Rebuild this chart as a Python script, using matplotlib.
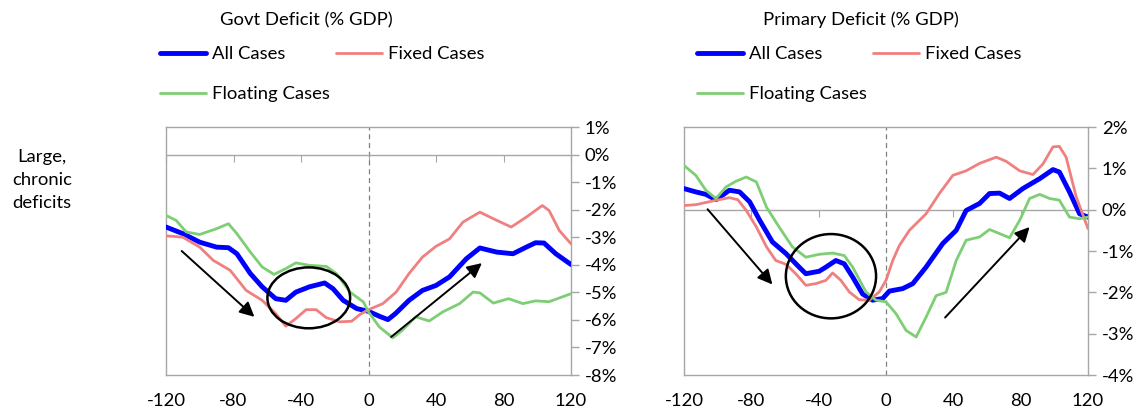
import matplotlib
matplotlib.use("Agg")
import matplotlib.pyplot as plt
from matplotlib.patches import Ellipse

plt.rcParams['font.family'] = ['Lato', 'DejaVu Sans']
plt.rcParams['axes.unicode_minus'] = False

# ---- Govt Deficit (% GDP) ----
govt_all_x = [-120, -110, -100, -90, -83, -78, -70, -63, -55, -49, -43, -35, -26, -21, -15, -7, 0,
              6.5, 11.5, 16, 24, 32, 40, 48, 58, 66, 76, 85.6, 93.5, 99, 104, 111, 120]
govt_all_y = [-2.63, -2.87, -3.18, -3.36, -3.38, -3.6, -4.32, -4.8, -5.23, -5.29, -4.99, -4.8, -4.66,
              -4.87, -5.29, -5.59, -5.69, -5.87, -5.99, -5.77, -5.29, -4.93, -4.75, -4.44, -3.78,
              -3.39, -3.54, -3.6, -3.36, -3.2, -3.21, -3.6, -3.99]

govt_fixed_x = [-120, -110, -100, -92, -82, -72.5, -63, -55, -49, -43, -37, -31, -25, -17, -10, -5, 0,
                8.5, 16.4, 24, 32, 40, 48, 56, 66, 74, 84.6, 93.5, 103, 107, 113, 120]
govt_fixed_y = [-2.95, -3.0, -3.36, -3.84, -4.2, -4.93, -5.29, -5.77, -6.23, -5.95, -5.63, -5.63,
                -5.92, -6.07, -6.05, -5.8, -5.63, -5.41, -4.99, -4.32, -3.72, -3.33, -3.06, -2.45,
                -2.09, -2.33, -2.63, -2.27, -1.85, -2.03, -2.75, -3.24]

govt_float_x = [-120, -114, -108, -100, -90, -83, -78, -70, -63, -56, -49, -43, -35, -25, -19, -11, -3,
                0, 6.5, 14.4, 20, 28, 36, 44, 54, 62, 66, 74, 83, 91.5, 99, 107, 120]
govt_float_y = [-2.21, -2.39, -2.81, -2.9, -2.69, -2.51, -2.87, -3.54, -4.08, -4.35, -4.14, -3.93,
                -4.02, -4.06, -4.32, -4.99, -5.35, -5.71, -6.26, -6.65, -6.38, -5.89, -6.04, -5.71,
                -5.41, -4.99, -5.02, -5.39, -5.23, -5.41, -5.31, -5.34, -5.05]

# ---- Primary Deficit (% GDP) ----
prim_all_x = [-120, -113, -107, -101, -93, -87, -81, -75, -67.5, -59.5, -51.6, -47.6, -39.7, -35.7,
              -29.8, -24.8, -19.8, -13.9, -7.9, -2, 2, 9.9, 15.9, 23.8, 33.7, 41.7, 47.6, 55.6, 61.5,
              67.5, 73.4, 81.3, 91.3, 99.2, 103, 109, 115, 120]
prim_all_y = [0.51, 0.43, 0.37, 0.24, 0.47, 0.43, 0.19, -0.26, -0.78, -1.06, -1.39, -1.55, -1.49,
              -1.39, -1.23, -1.31, -1.63, -2.04, -2.19, -2.15, -1.97, -1.91, -1.79, -1.39, -0.82,
              -0.5, -0.02, 0.15, 0.39, 0.4, 0.27, 0.51, 0.75, 0.97, 0.91, 0.43, -0.1, -0.18]

prim_fixed_x = [-120, -113, -103, -93, -88, -83, -77, -71, -65.5, -59.5, -53.6, -47.6, -41.7, -35.7,
                -31.7, -26.8, -21.8, -15.9, -9.9, -4, 0, 4, 7.9, 13.9, 23.8, 31.7, 39.7, 47.6, 55.6,
                65.5, 71.4, 79.4, 87.3, 93.3, 99.2, 103, 107, 113, 120]
prim_fixed_y = [0.10, 0.12, 0.21, 0.29, 0.24, -0.02, -0.42, -0.9, -1.23, -1.32, -1.55, -1.83, -1.79,
                -1.71, -1.53, -1.71, -1.99, -2.18, -2.19, -1.99, -1.71, -1.23, -0.87, -0.5, -0.1,
                0.39, 0.83, 0.94, 1.12, 1.27, 1.17, 0.94, 0.85, 1.11, 1.52, 1.53, 1.27, 0.31, -0.46]

prim_float_x = [-120, -113, -107, -101, -95, -89, -83, -77, -71, -63.5, -55.6, -47.6, -39.7, -31.7,
                -24.8, -19.8, -11.9, -6, 0, 6, 11.9, 17.9, 23.8, 29.8, 35.7, 41.7, 47.6, 55.6, 61.5,
                67.5, 73.4, 79.4, 85.3, 91.3, 97.2, 103, 109, 115, 120]
prim_float_y = [1.07, 0.83, 0.47, 0.27, 0.55, 0.69, 0.79, 0.67, 0.06, -0.42, -0.9, -1.15, -1.08,
                -1.05, -1.11, -1.39, -1.99, -2.19, -2.23, -2.52, -2.92, -3.08, -2.6, -2.08, -2.0,
                -1.23, -0.74, -0.66, -0.48, -0.58, -0.68, -0.26, 0.27, 0.37, 0.27, 0.23, -0.18,
                -0.22, -0.18]

x_ticks = [-120, -80, -40, 0, 40, 80, 120]
govt_yticks = [1, 0, -1, -2, -3, -4, -5, -6, -7, -8]
prim_yticks = [2, 1, 0, -1, -2, -3, -4]

# annotations: (start, end) arrows and ellipses (center, width, height)
govt_arrows = [((-110.7, -3.5), (-67.6, -5.89)), ((13.4, -6.62), (67.2, -3.94))]
govt_circle = ((-35.4, -5.2), 49, 2.21)
prim_arrows = [((-106, 0.01), (-67.5, -1.81)), ((35.1, -2.61), (85.3, -0.42))]
prim_circle = ((-32.7, -1.61), 53.6, 2.04)

BLUE = '#0000ff'
RED = '#f08080'
GREEN = '#7dce74'
GRAY = '#a6a6a6'
FS = 13.3

W, H = 1144, 416
fig = plt.figure(figsize=(W / 100, H / 100), dpi=100)


def draw_panel(rect, title, title_x, leg_x, series, yticks, arrows, circle):
    ax = fig.add_axes(rect)
    lines = []
    for (xs, ys, col, lw, lab) in series:
        ln, = ax.plot(xs, ys, color=col, lw=lw, label=lab, solid_capstyle='round',
                      solid_joinstyle='round', zorder=3)
        lines.append(ln)
    ax.set_xlim(-120, 120)
    ax.set_ylim(min(yticks), max(yticks))
    ax.axvline(0, color='#808080', lw=0.9, ls=(0, (4, 3)), zorder=1)
    ax.axhline(0, color=GRAY, lw=1, zorder=1)

    for sp in ax.spines.values():
        sp.set_color(GRAY)
        sp.set_linewidth(1)

    ax.set_xticks(x_ticks)
    ax.set_xticklabels([str(t) for t in x_ticks])
    ax.tick_params(axis='x', length=0, pad=13, labelsize=FS)
    ax.yaxis.tick_right()
    ax.set_yticks(yticks)
    ax.set_yticklabels([f"{t}%" for t in yticks])
    ax.tick_params(axis='y', direction='out', length=6, width=1, color=GRAY, pad=4, labelsize=FS)

    # tick marks on the zero line
    frac = (0 - min(yticks)) / (max(yticks) - min(yticks))
    sec = ax.secondary_xaxis(frac)
    sec.set_xticks(x_ticks)
    sec.tick_params(direction='in', length=5, color=GRAY, labeltop=False, labelbottom=False)
    for sp in sec.spines.values():
        sp.set_visible(False)

    for (p0, p1) in arrows:
        ax.annotate('', xy=p1, xytext=p0,
                    arrowprops=dict(arrowstyle='-|>', color='black', lw=1.4,
                                    mutation_scale=22, shrinkA=0, shrinkB=0), zorder=4)
    (cx, cy), cw, ch = circle
    ax.add_patch(Ellipse((cx, cy), cw, ch, fill=False, ec='black', lw=1.8, zorder=4))

    fig.text(title_x / W, 1 - 20 / H, title, ha='center', va='center', fontsize=FS)
    # column-wise fill: All / Floating in first column, Fixed in second
    order = [lines[0], lines[2], lines[1]]
    fig.legend(handles=order, loc='upper left', bbox_to_anchor=(leg_x / W, 1 - 46 / H),
               ncol=2, frameon=False, fontsize=FS, handlelength=2.5, handletextpad=0.3,
               columnspacing=0.35, labelspacing=1.3, borderpad=0, borderaxespad=0)
    return ax


ax1 = draw_panel([166 / W, 1 - 375 / H, 405 / W, 248 / H], "Govt Deficit (% GDP)", 306, 160,
                 [(govt_all_x, govt_all_y, BLUE, 3.5, 'All Cases'),
                  (govt_fixed_x, govt_fixed_y, RED, 2.0, 'Fixed Cases'),
                  (govt_float_x, govt_float_y, GREEN, 2.0, 'Floating Cases')],
                 govt_yticks, govt_arrows, govt_circle)

ax2 = draw_panel([684 / W, 1 - 375 / H, 404 / W, 248 / H], "Primary Deficit (% GDP)", 861, 697,
                 [(prim_all_x, prim_all_y, BLUE, 3.5, 'All Cases'),
                  (prim_fixed_x, prim_fixed_y, RED, 2.0, 'Fixed Cases'),
                  (prim_float_x, prim_float_y, GREEN, 2.0, 'Floating Cases')],
                 prim_yticks, prim_arrows, prim_circle)

fig.text(42 / W, 1 - 180 / H, "Large,\nchronic\ndeficits", ha='center', va='center',
         fontsize=FS, linespacing=1.55)

fig.savefig("out.png", dpi=100)
